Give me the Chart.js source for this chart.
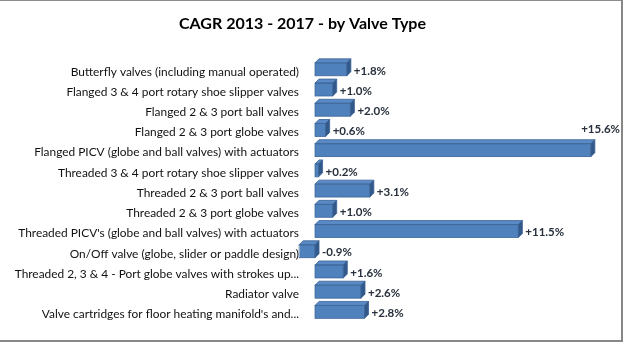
<!DOCTYPE html>
<html>
<head>
<meta charset="utf-8">
<script src="https://cdn.jsdelivr.net/npm/chart.js@4.4.1/dist/chart.umd.min.js"></script>
<style>
  html, body { margin: 0; padding: 0; background: #fff; }
  #wrap { width: 624px; height: 342px; position: relative; }
</style>
</head>
<body>
<div id="wrap"><canvas id="c" width="624" height="342"></canvas></div>
<script>
const titleText = "CAGR 2013 - 2017 - by Valve Type";
const categories = [
  "Butterfly valves (including manual operated)",
  "Flanged 3 & 4 port rotary shoe slipper valves",
  "Flanged 2 & 3 port ball valves",
  "Flanged 2 & 3 port globe valves",
  "Flanged PICV (globe and ball valves) with actuators",
  "Threaded 3 & 4 port rotary shoe slipper valves",
  "Threaded 2 & 3 port ball valves",
  "Threaded 2 & 3 port globe valves",
  "Threaded PICV's (globe and ball valves) with actuators",
  "On/Off valve (globe, slider or paddle design)",
  "Threaded 2, 3 & 4 - Port globe valves with strokes up...",
  "Radiator valve",
  "Valve cartridges for floor heating manifold's and..."
];
const cagrValues = [1.8, 1.0, 2.0, 0.6, 15.6, 0.2, 3.1, 1.0, 11.5, -0.9, 1.6, 2.6, 2.8];
const axisMin = -0.85;
const axisMax = 16.4;

const DEPTH_X = 4, DEPTH_Y = 4;

const fmt = v => (v >= 0 ? "+" : "") + v.toFixed(1) + "%";

const framePlugin = {
  id: "frame",
  beforeDraw(chart) {
    const ctx = chart.ctx;
    ctx.save();
    ctx.fillStyle = "#ffffff";
    ctx.fillRect(0, 0, chart.width, chart.height);
    ctx.restore();
  },
  afterDraw(chart) {
    const ctx = chart.ctx;
    const W = chart.width, H = chart.height;
    ctx.save();
    ctx.fillStyle = "#8c8c8c";
    ctx.fillRect(0, 0, W, 1);
    ctx.fillStyle = "#878787";
    ctx.fillRect(W - 3, 0, 2, H - 1);
    ctx.fillRect(0, H - 2, W - 1, 2);
    ctx.fillStyle = "#ffffff";
    ctx.fillRect(W - 1, 0, 1, H);
    ctx.restore();
  }
};

const bar3dPlugin = {
  id: "bar3d",
  afterDatasetsDraw(chart) {
    const ctx = chart.ctx;
    const meta = chart.getDatasetMeta(0);
    ctx.save();
    meta.data.forEach((el, i) => {
      const p = el.getProps(["x", "y", "base", "height"], true);
      const left = Math.min(p.x, p.base), right = Math.max(p.x, p.base);
      const top = p.y - p.height / 2, bottom = p.y + p.height / 2;
      ctx.lineWidth = 0.8;
      // top face
      ctx.beginPath();
      ctx.moveTo(left, top);
      ctx.lineTo(right, top);
      ctx.lineTo(right + DEPTH_X, top - DEPTH_Y);
      ctx.lineTo(left + DEPTH_X, top - DEPTH_Y);
      ctx.closePath();
      ctx.fillStyle = "#5a8ac6";
      ctx.fill();
      ctx.strokeStyle = "#3a6294";
      ctx.stroke();
      // side face
      ctx.beginPath();
      ctx.moveTo(right, top);
      ctx.lineTo(right + DEPTH_X, top - DEPTH_Y);
      ctx.lineTo(right + DEPTH_X, bottom - DEPTH_Y);
      ctx.lineTo(right, bottom);
      ctx.closePath();
      ctx.fillStyle = "#33598a";
      ctx.fill();
      ctx.stroke();
      // front outline
      ctx.strokeStyle = "#3d6699";
      ctx.strokeRect(left, top, right - left, bottom - top);
    });
    // value labels
    ctx.font = "bold 11.5px Lato";
    ctx.fillStyle = "#27303c";
    ctx.textBaseline = "middle";
    ctx.textAlign = "left";
    meta.data.forEach((el, i) => {
      const p = el.getProps(["x", "y", "base"], true);
      const txt = fmt(cagrValues[i]);
      const w = ctx.measureText(txt).width;
      let x = Math.max(p.x, p.base) + DEPTH_X + 3;
      let y = p.y + 1.5;
      if (x + w > chart.width - 4) {
        x = Math.min(Math.max(p.x, p.base) + DEPTH_X + 1, chart.width - 4 - w);
        y = p.y - 21;
      }
      ctx.fillText(txt, x, y);
    });
    ctx.restore();
  }
};

new Chart(document.getElementById("c"), {
  type: "bar",
  data: {
    labels: categories,
    datasets: [{
      data: cagrValues,
      backgroundColor: "#4f81bd",
      borderWidth: 0,
      barPercentage: 0.64,
      categoryPercentage: 1.0
    }]
  },
  options: {
    indexAxis: "y",
    responsive: false,
    animation: false,
    devicePixelRatio: 1,
    layout: { padding: { left: 0, right: 19, top: 0, bottom: 20 } },
    plugins: {
      legend: { display: false },
      tooltip: { enabled: false },
      title: {
        display: true,
        text: titleText,
        color: "#000",
        font: { family: "Lato", size: 16, weight: "bold" },
        padding: { top: 14, bottom: 26 }
      }
    },
    scales: {
      x: {
        display: false,
        min: axisMin,
        max: axisMax
      },
      y: {
        afterFit(scale) { scale.width = 300; },
        grid: { display: false, drawTicks: false },
        border: { display: false },
        ticks: {
          padding: 1,
          labelOffset: 2.5,
          color: "#111",
          font: { family: "Lato", size: 11.9 },
          autoSkip: false
        }
      }
    }
  },
  plugins: [framePlugin, bar3dPlugin]
});
</script>
</body>
</html>
